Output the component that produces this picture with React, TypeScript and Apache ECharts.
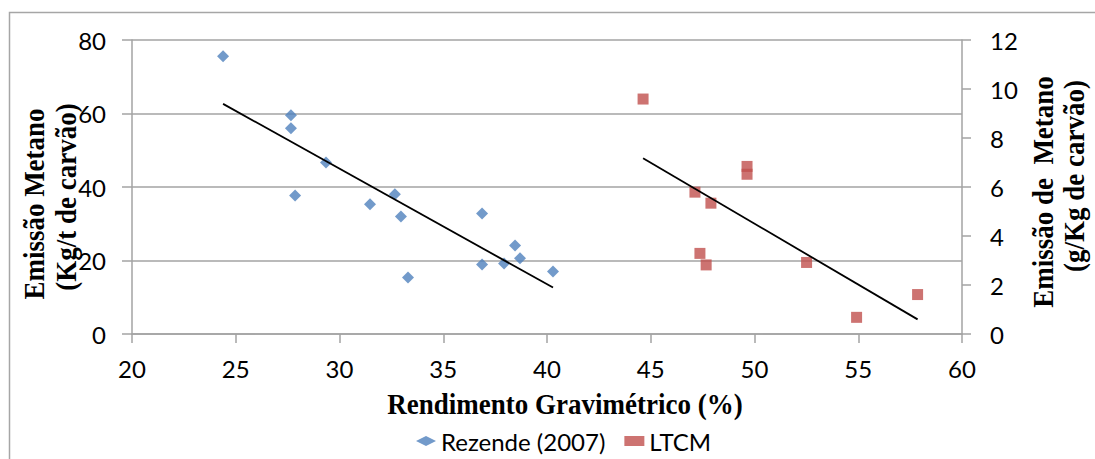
import React, { useEffect, useRef } from "react";
import * as echarts from "echarts";

// Rendimento gravimétrico (%) vs emissão de metano
const rezendeX = [24.39, 27.66, 27.66, 29.35, 27.86, 31.47, 32.67, 32.96, 33.3, 36.87, 36.87, 37.93, 38.46, 38.7, 40.29];
const rezendeY = [75.6, 59.5, 56.0, 46.7, 37.7, 35.3, 38.0, 32.0, 15.4, 32.8, 18.9, 19.2, 24.1, 20.6, 17.0];
const ltcmX = [44.63, 47.13, 47.9, 49.64, 49.64, 47.37, 47.67, 52.51, 54.92, 57.86];
const ltcmY = [9.59, 5.79, 5.34, 6.84, 6.52, 3.29, 2.82, 2.92, 0.68, 1.61];

const seriesNames = ["Rezende (2007)", "LTCM"];
const xAxisTitle = "Rendimento Gravimétrico (%)";
const leftTitle = ["Emissão Metano", "(Kg/t de carvão)"];
const rightTitle = ["Emissão de  Metano", "(g/Kg de carvão)"];
const xRange = [20, 60, 5];
const leftRange = [0, 80, 20];
const rightRange = [0, 12, 2];

function linearFit(xs: number[], ys: number[]): number[][] {
  const n = xs.length;
  const mx = xs.reduce((a, b) => a + b, 0) / n;
  const my = ys.reduce((a, b) => a + b, 0) / n;
  let sxy = 0;
  let sxx = 0;
  for (let i = 0; i < n; i++) {
    sxy += (xs[i] - mx) * (ys[i] - my);
    sxx += (xs[i] - mx) * (xs[i] - mx);
  }
  const b = sxy / sxx;
  const a = my - b * mx;
  const x0 = Math.min(...xs);
  const x1 = Math.max(...xs);
  return [
    [x0, a + b * x0],
    [x1, a + b * x1],
  ];
}

const GRAY = "#a3a3a3";
const LABEL_FONT = "Lato";
const TITLE_FONT = "bold 27px 'Liberation Serif', 'Times New Roman', serif";
const TITLE_STRETCH = 1.12;

export default function App() {
  const ref = useRef<HTMLDivElement>(null);
  useEffect(() => {
    document.body.style.margin = "0";
    if (!ref.current) return;
    const chart = echarts.init(ref.current, undefined, { renderer: "svg" });
    const axisLabel = { fontFamily: LABEL_FONT, fontSize: 24, color: "#000" };
    const titleStyle = (text: string) => ({
      text,
      font: TITLE_FONT,
      fill: "#000",
      textAlign: "center",
      textVerticalAlign: "middle",
    });
    chart.setOption({
      animation: false,
      backgroundColor: "#fff",
      grid: { left: 132, right: 133, top: 40, bottom: 125 },
      legend: {
        left: 416,
        top: 429,
        padding: 0,
        itemWidth: 20,
        itemHeight: 10,
        itemGap: 19,
        textStyle: { fontFamily: LABEL_FONT, fontSize: 24, color: "#000" },
        data: [
          { name: seriesNames[0], icon: "diamond" },
          { name: seriesNames[1], icon: "rect" },
        ],
      },
      xAxis: {
        type: "value",
        min: xRange[0],
        max: xRange[1],
        interval: xRange[2],
        splitLine: { show: false },
        axisLine: { show: true, lineStyle: { color: GRAY, width: 1.5 } },
        axisTick: { show: true, length: 9, lineStyle: { color: GRAY, width: 1.5 } },
        axisLabel: { ...axisLabel, margin: 22 },
      },
      yAxis: [
        {
          type: "value",
          position: "left",
          min: leftRange[0],
          max: leftRange[1],
          interval: leftRange[2],
          splitLine: { show: true, lineStyle: { color: GRAY, width: 1.5 } },
          axisLine: { show: true, lineStyle: { color: GRAY, width: 1.5 } },
          axisTick: { show: true, length: 10, lineStyle: { color: GRAY, width: 1.5 } },
          axisLabel: { ...axisLabel, margin: 26 },
        },
        {
          type: "value",
          position: "right",
          min: rightRange[0],
          max: rightRange[1],
          interval: rightRange[2],
          splitLine: { show: false },
          axisLine: { show: true, lineStyle: { color: GRAY, width: 1.5 } },
          axisTick: { show: true, length: 9, lineStyle: { color: GRAY, width: 1.5 } },
          axisLabel: { ...axisLabel, margin: 28 },
        },
      ],
      series: [
        {
          name: seriesNames[0],
          type: "scatter",
          yAxisIndex: 0,
          symbol: "diamond",
          symbolSize: 12,
          itemStyle: { color: "#4f81bd" },
          data: rezendeX.map((x, i) => [x, rezendeY[i]]),
          z: 3,
        },
        {
          name: seriesNames[1],
          type: "scatter",
          yAxisIndex: 1,
          symbol: "rect",
          symbolSize: 11,
          itemStyle: { color: "#c0504d" },
          data: ltcmX.map((x, i) => [x, ltcmY[i]]),
          z: 3,
        },
        {
          name: "trend-rezende",
          type: "line",
          yAxisIndex: 0,
          symbol: "none",
          silent: true,
          lineStyle: { color: "#000", width: 1.8 },
          data: linearFit(rezendeX, rezendeY),
          z: 4,
        },
        {
          name: "trend-ltcm",
          type: "line",
          yAxisIndex: 1,
          symbol: "none",
          silent: true,
          lineStyle: { color: "#000", width: 1.8 },
          data: linearFit(ltcmX, ltcmY),
          z: 4,
        },
      ],
      graphic: [
        {
          type: "rect",
          shape: { x: 9.5, y: 12.5, width: 1200, height: 600 },
          style: { fill: "none", stroke: "#a6a6a6", lineWidth: 1.5 },
          silent: true,
        },
        { type: "text", x: 565, y: 403, scaleY: TITLE_STRETCH, style: titleStyle(xAxisTitle) },
        { type: "text", x: 33, y: 204, rotation: Math.PI / 2, scaleY: TITLE_STRETCH, style: titleStyle(leftTitle[0]) },
        { type: "text", x: 65, y: 197, rotation: Math.PI / 2, scaleY: TITLE_STRETCH, style: titleStyle(leftTitle[1]) },
        { type: "text", x: 1042, y: 192, rotation: Math.PI / 2, scaleY: TITLE_STRETCH, style: titleStyle(rightTitle[0]) },
        { type: "text", x: 1073, y: 176, rotation: Math.PI / 2, scaleY: TITLE_STRETCH, style: titleStyle(rightTitle[1]) },
      ],
    });
    return () => chart.dispose();
  }, []);
  return <div ref={ref} style={{ position: "absolute", left: 0, top: 0, width: 1095, height: 459 }} />;
}
